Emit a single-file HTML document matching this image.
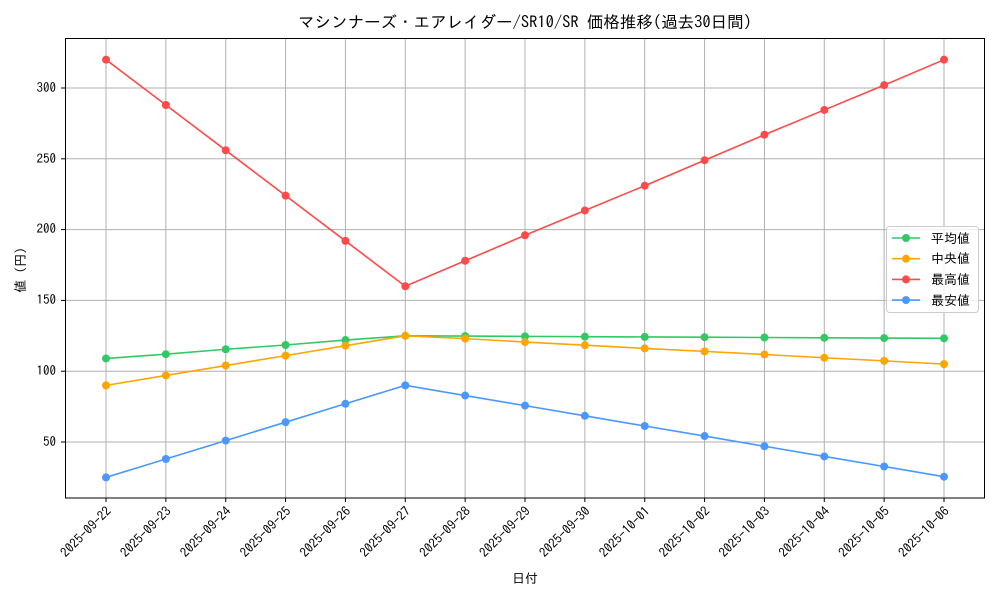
<!DOCTYPE html>
<html><head><meta charset="utf-8"><style>
body{margin:0;background:#fff}
svg text{font-family:"IPAGothic","Noto Sans CJK JP",sans-serif;fill:#000}
</style></head><body>
<svg id="s" width="1000" height="600" xmlns="http://www.w3.org/2000/svg">
<rect width="1000" height="600" fill="#fff"/>
<g id="grid"></g>
<g id="series"></g>
<rect x="65.5" y="38.5" width="919" height="459.5" fill="none" stroke="#000" stroke-width="1"/>
<text x="525" y="28" font-size="16.5" text-anchor="middle">マシンナーズ・エアレイダー/SR10/SR 価格推移(過去30日間)</text>
<g font-size="13" text-anchor="end">
<text x="56" y="446">50</text>
<text x="56" y="375">100</text>
<text x="56" y="304">150</text>
<text x="56" y="233">200</text>
<text x="56" y="163">250</text>
<text x="56" y="92">300</text>
</g>
<text transform="translate(25,270) rotate(-90)" font-size="13" text-anchor="middle">値 (円)</text>
<text x="525" y="583" font-size="13" text-anchor="middle">日付</text>
<g id="xl" font-size="13" text-anchor="end"></g>
<g id="leg">
<rect x="886.5" y="226.5" width="92" height="86" rx="3" fill="#fff" fill-opacity="0.8" stroke="#ccc"/>
<text x="931" y="243" font-size="13">平均値</text>
<text x="931" y="263" font-size="13">中央値</text>
<text x="931" y="284" font-size="13">最高値</text>
<text x="931" y="305" font-size="13">最安値</text>
</g>
</svg>
<script>
const ns="http://www.w3.org/2000/svg";
function el(p,t,a){const e=document.createElementNS(ns,t);for(const k in a)e.setAttribute(k,a[k]);p.appendChild(e);return e;}
const X=i=>106+i*59.857, Y=v=>442-(v-50)*1.416;
const g=document.getElementById('grid');
for(let i=0;i<15;i++){el(g,'line',{x1:X(i),x2:X(i),y1:38,y2:498,stroke:'#b0b0b0','stroke-width':1});el(g,'line',{x1:X(i),x2:X(i),y1:498,y2:502,stroke:'#000'});}
for(let v=50;v<=300;v+=50){el(g,'line',{x1:65,x2:985,y1:Y(v),y2:Y(v),stroke:'#b0b0b0','stroke-width':1});el(g,'line',{x1:61,x2:65,y1:Y(v),y2:Y(v),stroke:'#000'});}
const dates=["2025-09-22","2025-09-23","2025-09-24","2025-09-25","2025-09-26","2025-09-27","2025-09-28","2025-09-29","2025-09-30","2025-10-01","2025-10-02","2025-10-03","2025-10-04","2025-10-05","2025-10-06"];
const xl=document.getElementById('xl');
dates.forEach((d,i)=>{const t=el(xl,'text',{transform:`translate(${X(i)+6},${512}) rotate(-45)`});t.textContent=d;});
const S=[
["#33c866",[109,112,115.5,118.5,122,125,124.8,124.6,124.4,124.2,124,123.8,123.6,123.4,123.2]],
["#ffa500",[90,97,104,111,118,125,123,120.6,118.4,116.1,114,111.8,109.5,107.3,105]],
["#ff4a4a",[320,288,256,224,192,160,178,196,213.5,231,249,267,284.5,302,320]],
["#4a98ff",[25,38,51,64,77,90,82.8,75.7,68.5,61.3,54.2,47,39.8,32.7,25.5]]];
const sg=document.getElementById('series'),lg=document.getElementById('leg');
S.forEach(([c,d],k)=>{
el(sg,'polyline',{points:d.map((v,i)=>X(i)+','+Y(v)).join(' '),fill:'none',stroke:c,'stroke-width':1.6});
d.forEach((v,i)=>el(sg,'circle',{cx:X(i),cy:Y(v),r:4,fill:c}));
const y=238+k*20.7;
el(lg,'line',{x1:892,x2:920,y1:y,y2:y,stroke:c,'stroke-width':1.6});
el(lg,'circle',{cx:906,cy:y,r:4,fill:c});
});
</script>
</body></html>
